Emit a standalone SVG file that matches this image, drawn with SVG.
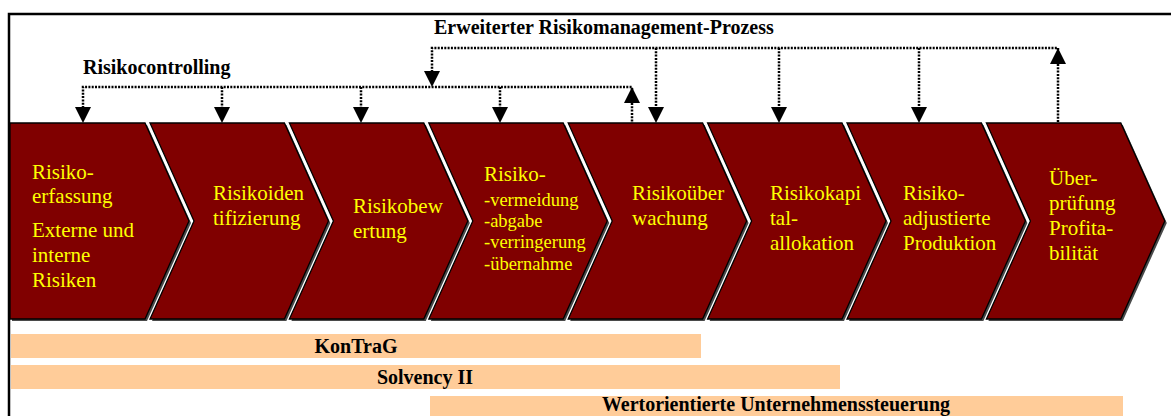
<svg xmlns="http://www.w3.org/2000/svg" width="1171" height="416" viewBox="0 0 1171 416">
<defs>
<style>
.chev{fill:#800000;stroke:#000;stroke-width:1.3}
.shadow{fill:#4a4a4a}
.t{font-family:"Liberation Serif","Times New Roman",serif;font-size:21px;fill:#FFFF00}
.s{font-size:18.5px}
.b{font-family:"Liberation Serif","Times New Roman",serif;font-size:20px;font-weight:bold;fill:#000}
.bar{fill:#FFCC99}
.dot{fill:none;stroke:#000;stroke-width:2.5;stroke-dasharray:2 1.3}
.head{fill:#000}
</style>
</defs>
<rect x="0" y="0" width="1171" height="416" fill="#fff"/>
<rect x="9" y="14" width="1180" height="420" fill="none" stroke="#000" stroke-width="2.5"/>

<g id="title">
<text class="b" x="434" y="34">Erweiterter Risikomanagement-Prozess</text>
<text class="b" x="83" y="74">Risikocontrolling</text>
</g>

<g id="connectors">
<polyline class="dot" points="83,108 83,87 632,87 632,103"/>
<line class="dot" x1="222" y1="87" x2="222" y2="108"/>
<line class="dot" x1="361" y1="87" x2="361" y2="108"/>
<line class="dot" x1="500" y1="87" x2="500" y2="108"/>
<line class="dot" x1="632" y1="103" x2="632" y2="124"/>
<polyline class="dot" points="432,72 432,48 1058,48 1058,64"/>
<line class="dot" x1="656" y1="48" x2="656" y2="108"/>
<line class="dot" x1="779" y1="48" x2="779" y2="108"/>
<line class="dot" x1="919" y1="48" x2="919" y2="108"/>
<line class="dot" x1="1058" y1="64" x2="1058" y2="124"/>
<polygon class="head" points="75,107 91,107 83,123"/>
<polygon class="head" points="214,107 230,107 222,123"/>
<polygon class="head" points="353,107 369,107 361,123"/>
<polygon class="head" points="492,107 508,107 500,123"/>
<polygon class="head" points="624,103 640,103 632,87"/>
<polygon class="head" points="424,71 440,71 432,87"/>
<polygon class="head" points="648,107 664,107 656,123"/>
<polygon class="head" points="771,107 787,107 779,123"/>
<polygon class="head" points="911,107 927,107 919,123"/>
<polygon class="head" points="1050,64 1066,64 1058,48"/>
</g>

<g id="node1">
<polygon class="shadow" points="12,125 147,125 191,223 147,321 12,321"/>
<polygon class="chev" points="10,123 145,123 189,221 145,319 10,319"/>
<text class="t" x="32" y="179">Risiko-</text>
<text class="t" x="32" y="203">erfassung</text>
<text class="t" x="32" y="237">Externe und</text>
<text class="t" x="32" y="262">interne</text>
<text class="t" x="32" y="287">Risiken</text>
</g>
<g id="node2">
<polygon class="shadow" points="152,125 286.4,125 330.4,223 286.4,321 152,321 196,223"/>
<polygon class="chev" points="150,123 284.4,123 328.4,221 284.4,319 150,319 194,221"/>
<text class="t" x="213" y="200">Risikoiden</text>
<text class="t" x="213" y="225">tifizierung</text>
</g>
<g id="node3">
<polygon class="shadow" points="291.4,125 425.8,125 469.8,223 425.8,321 291.4,321 335.4,223"/>
<polygon class="chev" points="289.4,123 423.8,123 467.8,221 423.8,319 289.4,319 333.4,221"/>
<text class="t" x="353" y="213">Risikobew</text>
<text class="t" x="353" y="238">ertung</text>
</g>
<g id="node4">
<polygon class="shadow" points="430.8,125 565.2,125 609.2,223 565.2,321 430.8,321 474.8,223"/>
<polygon class="chev" points="428.8,123 563.2,123 607.2,221 563.2,319 428.8,319 472.8,221"/>
<text class="t" x="484" y="181">Risiko-</text>
<text class="t s" x="484" y="206">-vermeidung</text>
<text class="t s" x="484" y="227">-abgabe</text>
<text class="t s" x="484" y="248">-verringerung</text>
<text class="t s" x="484" y="270">-übernahme</text>
</g>
<g id="node5">
<polygon class="shadow" points="570.2,125 704.6,125 748.6,223 704.6,321 570.2,321 614.2,223"/>
<polygon class="chev" points="568.2,123 702.6,123 746.6,221 702.6,319 568.2,319 612.2,221"/>
<text class="t" x="632" y="200">Risikoüber</text>
<text class="t" x="632" y="225">wachung</text>
</g>
<g id="node6">
<polygon class="shadow" points="709.6,125 844,125 888,223 844,321 709.6,321 753.6,223"/>
<polygon class="chev" points="707.6,123 842,123 886,221 842,319 707.6,319 751.6,221"/>
<text class="t" x="770" y="200">Risikokapi</text>
<text class="t" x="770" y="225">tal-</text>
<text class="t" x="770" y="250">allokation</text>
</g>
<g id="node7">
<polygon class="shadow" points="849,125 983.4,125 1027.4,223 983.4,321 849,321 893,223"/>
<polygon class="chev" points="847,123 981.4,123 1025.4,221 981.4,319 847,319 891,221"/>
<text class="t" x="903" y="200">Risiko-</text>
<text class="t" x="903" y="225">adjustierte</text>
<text class="t" x="903" y="250">Produktion</text>
</g>
<g id="node8">
<polygon class="shadow" points="988.4,125 1122.8,125 1166.8,223 1122.8,321 988.4,321 1032.4,223"/>
<polygon class="chev" points="986.4,123 1120.8,123 1164.8,221 1120.8,319 986.4,319 1030.4,221"/>
<text class="t" x="1049" y="185">Über-</text>
<text class="t" x="1049" y="210">prüfung</text>
<text class="t" x="1049" y="235">Profita-</text>
<text class="t" x="1049" y="260">bilität</text>
</g>

<g id="bar-kontrag">
<rect class="bar" x="11" y="334" width="690" height="24"/>
<text class="b" x="356" y="353" text-anchor="middle">KonTraG</text>
</g>
<g id="bar-solvency">
<rect class="bar" x="11" y="365" width="829" height="24"/>
<text class="b" x="425" y="384" text-anchor="middle">Solvency II</text>
</g>
<g id="bar-wert">
<rect class="bar" x="430" y="396" width="693" height="24"/>
<text class="b" x="776" y="411" text-anchor="middle">Wertorientierte Unternehmenssteuerung</text>
</g>
</svg>
